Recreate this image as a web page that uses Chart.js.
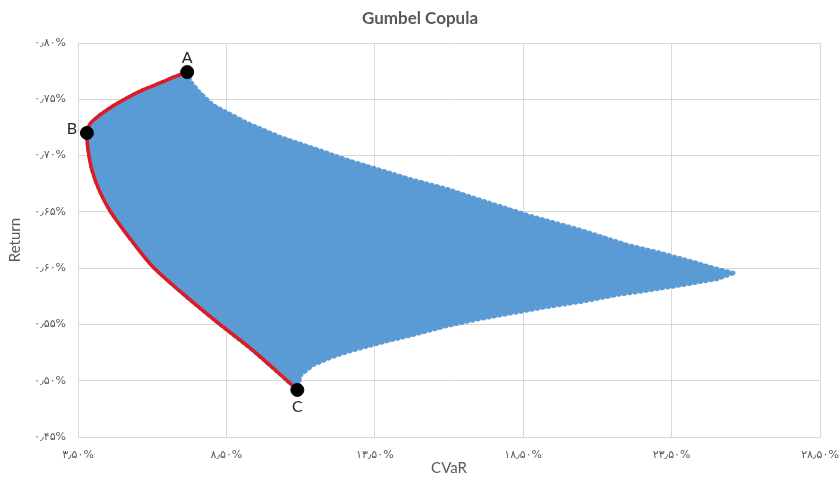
<!DOCTYPE html>
<html>
<head>
<meta charset="utf-8">
<title>Gumbel Copula</title>
<script src="https://cdn.jsdelivr.net/npm/chart.js@4.4.1/dist/chart.umd.min.js"></script>
<style>
  body { margin: 0; background: #fff; }
  canvas { display: block; }
</style>
</head>
<body>
<canvas id="chart" width="840" height="481"></canvas>
<script>
// efficient frontier, A -> B -> C (CVaR %, Return %)
const frontierCvar = [7.18, 6.74, 6.27, 5.69, 5.15, 4.68, 4.24, 3.90, 3.80, 3.84, 3.97, 4.21, 4.58, 5.29, 6.03, 7.08, 8.22, 9.37, 10.52, 10.89]
const frontierReturn = [0.7742, 0.7698, 0.7645, 0.7583, 0.7512, 0.7441, 0.7361, 0.7281, 0.7201, 0.7050, 0.6872, 0.6695, 0.6508, 0.6250, 0.6010, 0.5762, 0.5513, 0.5274, 0.5007, 0.4918]
const minRiskIndex = 8 // point B

// top edge of the portfolio cloud, from A out to the tip
const upperCvar = [7.31, 7.62, 8.05, 9.20, 10.32, 11.43, 12.58, 13.69, 14.80, 15.95, 17.06, 18.65, 20.44, 22.02, 23.14, 24.25, 24.92, 25.60]
const upperReturn = [0.7654, 0.7556, 0.7449, 0.7290, 0.7165, 0.7067, 0.6961, 0.6872, 0.6783, 0.6703, 0.6606, 0.6472, 0.6339, 0.6206, 0.6135, 0.6055, 0.6002, 0.5957]

// bottom edge of the cloud, from C out to the tip
const lowerCvar = [11.01, 11.43, 12.00, 12.58, 13.69, 14.80, 15.95, 17.06, 18.18, 19.32, 20.44, 21.68, 22.80, 23.91, 25.06, 25.60]
const lowerReturn = [0.5052, 0.5140, 0.5203, 0.5256, 0.5336, 0.5407, 0.5487, 0.5549, 0.5602, 0.5655, 0.5700, 0.5762, 0.5805, 0.5851, 0.5904, 0.5957]

// marked portfolios
const pointNames = ['A', 'B', 'C']
const pointCvar = [7.18, 3.80, 10.89]
const pointReturn = [0.7742, 0.7201, 0.4918]

const cvarTicks = [3.5, 8.5, 13.5, 18.5, 23.5, 28.5]
const returnTicks = [0.45, 0.50, 0.55, 0.60, 0.65, 0.70, 0.75, 0.80]

const faDigits = '۰۱۲۳۴۵۶۷۸۹'
function faPercent(v) {
    return v.toFixed(2).replace(/\d/g, d => faDigits[d]).replace('.', '٫') + '%'
}
function toXY(xs, ys) {
    return xs.map((x, i) => ({ x: x, y: ys[i] }))
}

const frontier = toXY(frontierCvar, frontierReturn)
// cloud outline split at B so both halves run left to right
const upperLine = frontier.slice(0, minRiskIndex + 1).reverse().concat(toXY(upperCvar, upperReturn))
const lowerLine = frontier.slice(minRiskIndex).concat(toXY(lowerCvar, lowerReturn))

const blue = '#5B9BD5'
const grey = '#595959'

const pointLabels = {
    id: 'pointLabels',
    afterDatasetsDraw(chart) {
        const meta = chart.getDatasetMeta(3)
        const offsets = [[0, -14], [-15, -4], [0, 17]]
        const ctx = chart.ctx
        ctx.save()
        ctx.font = '16px Lato'
        ctx.fillStyle = '#262626'
        ctx.textAlign = 'center'
        ctx.textBaseline = 'middle'
        meta.data.forEach(function (pt, i) {
            ctx.fillText(pointNames[i], pt.x + offsets[i][0], pt.y + offsets[i][1])
        })
        ctx.restore()
    }
}

// dotted thick edge gives the cloud its toothed outline
const cloudEdge = {
    showLine: true,
    backgroundColor: blue,
    borderColor: blue,
    borderWidth: 4,
    borderDash: [1.5, 4],
    borderCapStyle: 'round',
    pointRadius: 0
}

new Chart(document.getElementById('chart'), {
    type: 'scatter',
    data: {
        datasets: [
            Object.assign({ label: 'upper', data: upperLine, fill: '+1', order: 3 }, cloudEdge),
            Object.assign({ label: 'lower', data: lowerLine, fill: false, order: 4 }, cloudEdge),
            {
                label: 'frontier',
                data: frontier,
                showLine: true,
                borderColor: '#E01A22',
                borderWidth: 3.5,
                tension: 0.3,
                pointRadius: 0,
                order: 1
            },
            {
                label: 'points',
                data: toXY(pointCvar, pointReturn),
                backgroundColor: '#000',
                borderColor: '#000',
                pointRadius: 6.5,
                order: 0
            }
        ]
    },
    options: {
        responsive: false,
        animation: false,
        layout: { padding: 0 },
        plugins: {
            legend: { display: false },
            tooltip: { enabled: false },
            title: {
                display: true,
                text: 'Gumbel Copula',
                color: grey,
                font: { family: 'Lato', size: 17, weight: 'bold' },
                padding: { top: 8, bottom: 14.6 }
            }
        },
        scales: {
            x: {
                min: 3.5,
                max: 28.5,
                afterBuildTicks: function (s) { s.ticks = cvarTicks.map(v => ({ value: v })) },
                afterFit: function (s) {
                    s.height = 44
                    s.paddingLeft = 0
                    s.paddingRight = 20
                },
                grid: { color: '#d9d9d9', drawTicks: false },
                border: { color: '#d9d9d9' },
                ticks: {
                    padding: 12,
                    color: grey,
                    font: { family: 'DejaVu Sans', size: 11 },
                    callback: v => faPercent(v)
                },
                title: {
                    display: true,
                    text: 'CVaR',
                    color: grey,
                    font: { family: 'Lato', size: 15 },
                    padding: { top: 2, bottom: 4 }
                }
            },
            y: {
                min: 0.45,
                max: 0.80,
                afterBuildTicks: function (s) { s.ticks = returnTicks.map(v => ({ value: v })) },
                afterFit: function (s) {
                    s.width = 78
                    s.paddingTop = 0
                    s.paddingBottom = 0
                },
                grid: { color: '#d9d9d9', drawTicks: false },
                border: { color: '#d9d9d9' },
                ticks: {
                    padding: 12,
                    color: grey,
                    font: { family: 'DejaVu Sans', size: 11 },
                    callback: v => faPercent(v)
                },
                title: {
                    display: true,
                    text: 'Return',
                    color: grey,
                    font: { family: 'Lato', size: 15 },
                    padding: { top: 6, bottom: 0 }
                }
            }
        }
    },
    plugins: [pointLabels]
})
</script>
</body>
</html>
